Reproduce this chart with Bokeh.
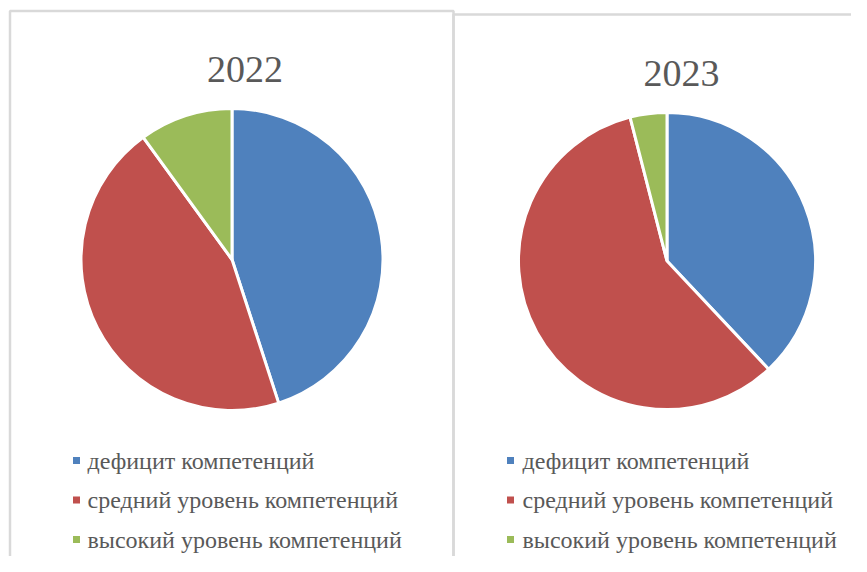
import math
from bokeh.plotting import figure
from bokeh.models import Range1d
from bokeh.core.properties import value
from bokeh.embed import file_html
from bokeh.resources import INLINE

# ---- data ----
categories = ["дефицит компетенций", "средний уровень компетенций", "высокий уровень компетенций"]
colors = ["#4F81BD", "#C0504D", "#9BBB59"]
years = ["2022", "2023"]
values_2022 = [45, 45, 10]
values_2023 = [38, 58, 4]

W, H = 851, 556
FONT = value("Liberation Serif")
TXT = "#595959"


def Y(sy):
    # reference pixel y -> data y
    return H - sy


p = figure(width=W, height=H, x_range=Range1d(0, W), y_range=Range1d(0, H),
           output_backend="svg", toolbar_location=None, min_border=0)
p.axis.visible = False
p.grid.visible = False
p.outline_line_color = None
p.background_fill_color = "white"

# panel frames
p.quad(left=[9.5], right=[453], top=[Y(10.5)], bottom=[Y(700)],
       fill_color=None, line_color="#D9D9D9", line_width=2.5)
p.quad(left=[453], right=[1000], top=[Y(14)], bottom=[Y(700)],
       fill_color=None, line_color="#D9D9D9", line_width=2.5)

rows = [460, 499.5, 539]
panels = [
    dict(vals=values_2022, title=years[0], cx=231.5, cy=259, r=151,
         tx=244.5, ty=69, mx=76, lx=87),
    dict(vals=values_2023, title=years[1], cx=666.5, cy=260.5, r=148.5,
         tx=681, ty=73, mx=510, lx=522),
]

for pn in panels:
    vals = pn["vals"]
    total = float(sum(vals))
    cum = 0.0
    starts, ends = [], []
    for v in vals:
        starts.append(math.pi / 2 - 2 * math.pi * cum / total)
        cum += v
        ends.append(math.pi / 2 - 2 * math.pi * cum / total)
    n = len(vals)
    p.wedge(x=[pn["cx"]] * n, y=[Y(pn["cy"])] * n, radius=pn["r"], radius_units="screen",
            start_angle=starts, end_angle=ends, direction="clock",
            fill_color=colors, line_color="white", line_width=3)
    # title
    p.text(x=[pn["tx"]], y=[Y(pn["ty"])], text=[pn["title"]], text_font=FONT,
           text_font_size="38px", text_color=TXT, text_align="center",
           text_baseline="alphabetic")
    # legend
    ys = [Y(r) for r in rows]
    p.scatter(x=[pn["mx"]] * n, y=ys, marker="square", size=7, fill_color=colors,
              line_color=None)
    p.text(x=[pn["lx"]] * n, y=ys, text=categories, text_font=FONT,
           text_font_size="24px", text_color=TXT, text_align="left",
           text_baseline="middle")

open("out.html", "w").write(file_html(p, INLINE))
